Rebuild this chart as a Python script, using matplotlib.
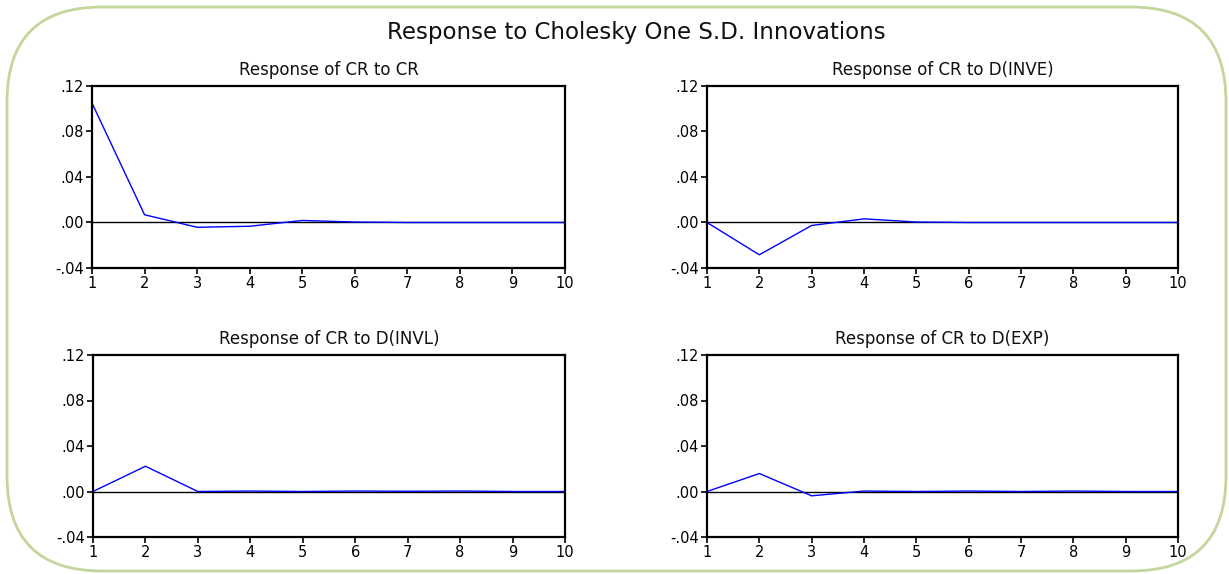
import matplotlib

matplotlib.use("Agg")
import matplotlib.pyplot as plt
from matplotlib.patches import FancyBboxPatch
from matplotlib.transforms import IdentityTransform

periods = [1, 2, 3, 4, 5, 6, 7, 8, 9, 10]
resp_cr = [0.105, 0.0068, -0.0042, -0.0033, 0.0018, 0.0004, 0.0, 0.0, 0.0, 0.0]
resp_inve = [0.0, -0.0284, -0.0026, 0.0032, 0.0004, 0.0, 0.0, 0.0, 0.0, 0.0]
resp_invl = [0.0, 0.0222, 0.0, 0.0004, 0.0, 0.0004, 0.0002, 0.0004, 0.0, 0.0]
resp_exp = [0.0, 0.0158, -0.0038, 0.0004, 0.0, 0.0004, 0.0, 0.0004, 0.0, 0.0]

panel_titles = [
    "Response of CR to CR",
    "Response of CR to D(INVE)",
    "Response of CR to D(INVL)",
    "Response of CR to D(EXP)",
]
series = [resp_cr, resp_inve, resp_invl, resp_exp]
yticks = [-0.04, 0.00, 0.04, 0.08, 0.12]
ytick_labels = ["-.04", ".00", ".04", ".08", ".12"]

W, H = 1229, 574
fig = plt.figure(figsize=(W / 100, H / 100), dpi=100)
plt.rcParams["font.family"] = ["DejaVu Sans"]

# rounded green frame, in pixel coordinates
frame = FancyBboxPatch(
    (7, 3), 1219, 564,
    boxstyle="round,pad=0,rounding_size=95",
    transform=IdentityTransform(), facecolor="none",
    edgecolor="#c3d69b", linewidth=2,
)
fig.patches.append(frame)

fig.text(636 / W, 1 - 33 / H, "Response to Cholesky One S.D. Innovations",
         ha="center", va="center", fontsize=16.5, color="#111111")

# axes boxes in pixels: left, right, top, bottom
boxes = [(92, 565, 86, 268), (707, 1178, 86, 268),
         (93, 565, 355, 537), (707, 1178, 355, 537)]

for (l, r, t, b), title, vals in zip(boxes, panel_titles, series):
    ax = fig.add_axes([l / W, 1 - b / H, (r - l) / W, (b - t) / H])
    ax.axhline(0, color="black", lw=1)
    ax.plot(periods, vals, color="#0000ff", lw=1)
    ax.set_xlim(1, 10)
    ax.set_ylim(-0.04, 0.12)
    ax.set_xticks(periods)
    ax.set_yticks(yticks, ytick_labels)
    ax.tick_params(direction="out", length=4, width=1.2, labelsize=10.5, pad=2)
    for s in ax.spines.values():
        s.set_linewidth(1.6)
    ax.set_title(title, fontsize=12, pad=8, color="#111111")

fig.savefig("out.png", dpi=100)
